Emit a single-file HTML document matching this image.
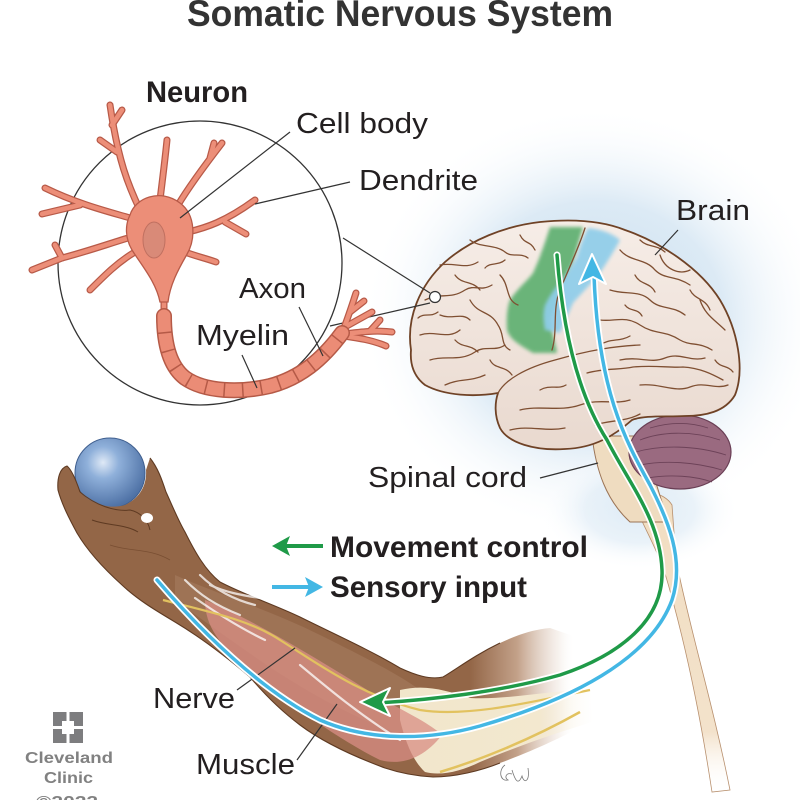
<!DOCTYPE html>
<html><head><meta charset="utf-8"><style>
html,body{margin:0;padding:0;background:#fff;}
svg{display:block;}
text{font-family:"Liberation Sans Narrow","Liberation Sans",sans-serif;fill:#231f20;}
</style></head><body>
<svg width="800" height="800" viewBox="0 0 800 800" xmlns="http://www.w3.org/2000/svg">
<defs>
<filter id="soft" x="-20%" y="-20%" width="140%" height="140%"><feGaussianBlur stdDeviation="1.8"/></filter>
<radialGradient id="glow" cx="0.5" cy="0.5" r="0.5">
<stop offset="0" stop-color="#c9dff0"/><stop offset="0.55" stop-color="#dceaf5"/><stop offset="1" stop-color="#ffffff" stop-opacity="0"/>
</radialGradient>
<radialGradient id="ball" cx="0.4" cy="0.35" r="0.65">
<stop offset="0" stop-color="#dfe9f6"/><stop offset="0.35" stop-color="#8fb0da"/><stop offset="1" stop-color="#4f72a6"/>
</radialGradient>
<linearGradient id="arm" gradientUnits="userSpaceOnUse" x1="470" y1="0" x2="575" y2="0">
<stop offset="0" stop-color="#936647"/><stop offset="0.45" stop-color="#c3a189"/><stop offset="0.85" stop-color="#f3ebe5" stop-opacity="0.6"/><stop offset="1" stop-color="#ffffff" stop-opacity="0"/>
</linearGradient>
<linearGradient id="tissue" gradientUnits="userSpaceOnUse" x1="400" y1="0" x2="600" y2="0">
<stop offset="0" stop-color="#f1e6cb"/><stop offset="0.7" stop-color="#f3e8cf"/><stop offset="1" stop-color="#ffffff" stop-opacity="0"/>
</linearGradient>
<linearGradient id="cord" x1="0" y1="0" x2="0" y2="1">
<stop offset="0" stop-color="#f1ddc1"/><stop offset="0.8" stop-color="#f3e2cb"/><stop offset="1" stop-color="#ffffff" stop-opacity="0"/>
</linearGradient>
<linearGradient id="brainfill" x1="0" y1="0" x2="0" y2="1">
<stop offset="0" stop-color="#f6ede7"/><stop offset="1" stop-color="#e9d9cf"/>
</linearGradient>
</defs>

<!-- title -->
<text x="187" y="26" font-size="37" font-weight="bold" textLength="426" lengthAdjust="spacingAndGlyphs" style="fill:#333">Somatic Nervous System</text>

<!-- glow -->
<ellipse cx="595" cy="320" rx="235" ry="215" fill="url(#glow)"/>
<ellipse cx="640" cy="510" rx="100" ry="60" fill="url(#glow)" opacity="0.6"/>

<!-- spinal cord -->
<path d="M632,498 C642,488 664,492 672,505 L676,560 C690,630 712,700 730,790 L712,792 C698,700 682,630 664,570 C655,545 640,520 632,498 Z" fill="url(#cord)" stroke="#b8906e" stroke-width="0.8"/>
<!-- brainstem -->
<path d="M592,436 C596,470 606,500 630,522 L668,522 C660,495 650,465 642,436 Z" fill="#efdcc0" stroke="#9b7456" stroke-width="1"/>
<!-- cerebellum -->
<ellipse cx="680" cy="452" rx="51" ry="37" fill="#9a6a80" stroke="#6a3f55" stroke-width="1.2"/>
<g stroke="#6d4258" stroke-width="0.9" fill="none">
<path d="M640,440 C660,432 690,430 720,440"/><path d="M636,452 C660,445 695,445 726,455"/>
<path d="M640,465 C665,460 695,462 722,470"/><path d="M648,478 C670,474 695,476 712,482"/>
<path d="M650,428 C670,422 690,422 708,428"/>
</g>

<!-- brain -->
<path d="M411,350 C406,318 420,285 445,262 C470,240 505,226 540,222 C570,219 600,220 625,230 C660,242 700,268 720,300 C738,330 745,370 735,395 C725,412 705,416 685,416 C665,417 645,415 632,420 C615,435 595,448 565,449 C535,451 508,443 500,428 C494,415 495,402 498,393 C475,397 445,396 425,385 C412,375 410,362 411,350 Z" fill="url(#brainfill)" stroke="#6f4226" stroke-width="1.8"/>
<!-- motor (green) region -->
<path filter="url(#soft)" d="M550,227 L583,227 C578,245 575,255 573,263 C565,280 557,300 550,320 C552,335 556,345 557,353 L533,353 C520,345 510,340 507,330 C506,315 508,305 510,300 C518,288 528,280 533,273 C538,262 542,252 550,227 Z" fill="#5fb071" opacity="0.92"/>
<!-- sensory (blue) region -->
<path filter="url(#soft)" d="M588,228 C600,229 612,233 620,240 C612,255 605,265 600,273 C590,285 580,295 573,303 C568,315 563,325 560,333 L545,330 C543,320 543,312 545,305 C550,295 555,288 560,283 C566,275 572,265 577,257 C580,245 584,235 588,228 Z" fill="#8fcdea" opacity="0.92"/>
<!-- gyri -->
<g stroke="#7f4f32" stroke-width="1.3" fill="none" stroke-linecap="round">
<path d="M440,265 C455,262 465,270 478,262"/>
<path d="M425,300 C440,292 450,300 465,290 C475,284 480,292 492,285"/>
<path d="M420,335 C435,330 448,340 460,330"/>
<path d="M430,360 C445,355 460,362 475,352 C485,345 495,352 505,345"/>
<path d="M470,240 C480,248 495,244 505,252 C512,258 520,252 528,258"/>
<path d="M500,275 C510,285 505,300 518,305"/>
<path d="M470,300 C478,315 490,310 498,325 C505,335 500,345 510,350"/>
<path d="M445,385 C460,378 470,382 485,375"/>
<path d="M440,315 C452,320 462,312 470,320"/>
<path d="M455,275 C462,285 472,280 480,290"/>
<path d="M418,318 C425,312 430,318 438,312"/>
<path d="M485,268 C490,262 498,266 505,260"/>
<path d="M455,340 C462,348 470,344 478,352"/>
<path d="M520,235 C525,245 530,240 535,250"/>
<path d="M490,360 C495,370 505,365 512,375"/>
<path d="M620,250 C630,262 645,258 655,270 C665,280 675,275 690,285"/>
<path d="M610,290 C625,295 640,290 650,300 C660,310 672,305 685,315"/>
<path d="M600,320 C615,322 625,315 640,325 C655,335 665,330 680,340 C690,346 700,342 712,350"/>
<path d="M660,255 C665,270 680,275 690,270"/>
<path d="M700,300 C705,315 715,320 725,330"/>
<path d="M635,275 C640,285 650,282 655,292"/>
<path d="M690,290 C695,300 705,298 710,310"/>
<path d="M625,305 C630,312 638,308 642,316"/>
<path d="M600,345 C610,338 620,342 630,336"/>
<path d="M715,360 C720,368 728,365 733,372"/>
<path d="M640,240 C648,248 656,244 665,252"/>
<path d="M620,360 C640,356 650,364 665,358 C680,352 690,362 705,358"/>
<path d="M640,385 C660,383 675,393 690,387 C705,381 715,390 728,385"/>
<path d="M498,393 C505,380 525,368 555,360 C590,350 615,346 640,345"/>
<path d="M587,373 C605,368 620,370 633,367 C655,365 670,368 683,367 C700,368 712,374 723,380"/>
<path d="M520,410 C540,405 560,412 580,405 C600,398 615,405 630,400"/>
<path d="M510,430 C530,425 545,432 565,428"/>
<path d="M595,425 C610,420 625,422 640,414"/>
<path d="M540,390 C550,384 558,390 566,385"/>
<path d="M585,228 C578,250 568,270 560,290 C552,310 558,330 552,350"/>
</g>

<!-- circle to brain connectors -->
<g stroke="#333" stroke-width="1.2" fill="none">
<line x1="343" y1="238" x2="430" y2="293"/>
<line x1="330" y1="326" x2="430" y2="303"/>
<circle cx="435" cy="297" r="5.5" fill="#fff"/>
</g>

<!-- neuron circle -->
<circle cx="200" cy="263" r="142" fill="none" stroke="#333" stroke-width="1.3"/>

<!-- neuron dendrites -->
<g fill="none" stroke-linecap="round" stroke-linejoin="round">
<g stroke="#b85a48" stroke-width="7">
<path d="M140,210 C128,185 118,160 110,105"/><path d="M117,152 L100,140"/><path d="M112,125 L122,110"/>
<path d="M160,200 C163,175 165,160 167,140"/>
<path d="M178,205 C190,185 205,165 222,143"/><path d="M210,158 L214,143"/>
<path d="M188,232 C205,228 225,222 255,200"/><path d="M225,222 L246,234"/>
<path d="M185,252 C195,256 205,258 216,262"/>
<path d="M130,218 C110,212 80,205 45,188"/><path d="M80,205 L42,214"/>
<path d="M128,238 C105,245 85,252 62,258 L32,270"/><path d="M62,258 L55,245"/>
<path d="M135,252 C118,262 105,275 90,290"/>
<path d="M164,298 L164,318"/>
<path d="M342,333 C348,318 352,305 356,293"/><path d="M350,312 L364,301"/><path d="M345,327 L372,312"/>
<path d="M344,334 C360,332 375,330 392,332"/><path d="M344,336 C358,338 372,340 386,346"/><path d="M370,331 L380,320"/>
</g>
<g stroke="#ec8e78" stroke-width="4.5">
<path d="M140,210 C128,185 118,160 110,105"/><path d="M117,152 L100,140"/><path d="M112,125 L122,110"/>
<path d="M160,200 C163,175 165,160 167,140"/>
<path d="M178,205 C190,185 205,165 222,143"/><path d="M210,158 L214,143"/>
<path d="M188,232 C205,228 225,222 255,200"/><path d="M225,222 L246,234"/>
<path d="M185,252 C195,256 205,258 216,262"/>
<path d="M130,218 C110,212 80,205 45,188"/><path d="M80,205 L42,214"/>
<path d="M128,238 C105,245 85,252 62,258 L32,270"/><path d="M62,258 L55,245"/>
<path d="M135,252 C118,262 105,275 90,290"/>
<path d="M164,298 L164,318"/>
<path d="M342,333 C348,318 352,305 356,293"/><path d="M350,312 L364,301"/><path d="M345,327 L372,312"/>
<path d="M344,334 C360,332 375,330 392,332"/><path d="M344,336 C358,338 372,340 386,346"/><path d="M370,331 L380,320"/>
</g>
</g>
<!-- cell body -->
<path d="M130,215 C135,198 160,188 180,203 C196,215 196,240 186,256 C178,270 170,285 168,302 L160,302 C156,282 142,266 132,250 C125,238 125,225 130,215 Z" fill="#ec8e78" stroke="#b85a48" stroke-width="1.3"/>
<ellipse cx="154" cy="240" rx="11" ry="18" fill="#d98a78" stroke="#c07060" stroke-width="1"/>
<!-- myelin -->
<path d="M164,316 C164,340 168,365 185,378 C205,392 240,393 270,386 C300,378 322,360 342,333" fill="none" stroke="#b55a47" stroke-width="16" stroke-linecap="round"/>
<path d="M164,316 C164,340 168,365 185,378 C205,392 240,393 270,386 C300,378 322,360 342,333" fill="none" stroke="#eb8c76" stroke-width="13" stroke-linecap="round"/>
<path d="M164,316 C164,340 168,365 185,378 C205,392 240,393 270,386 C300,378 322,360 342,333" fill="none" stroke="#b55a47" stroke-width="14" stroke-dasharray="1.5 17" stroke-dashoffset="-16"/>

<!-- neuron labels and leaders -->
<text x="146" y="102" font-size="30" font-weight="bold" textLength="102" lengthAdjust="spacingAndGlyphs">Neuron</text>
<text x="296" y="133" font-size="29" textLength="132" lengthAdjust="spacingAndGlyphs">Cell body</text>
<text x="359" y="190" font-size="29" textLength="119" lengthAdjust="spacingAndGlyphs">Dendrite</text>
<text x="676" y="220" font-size="29" textLength="74" lengthAdjust="spacingAndGlyphs">Brain</text>
<text x="239" y="298" font-size="29" textLength="67" lengthAdjust="spacingAndGlyphs">Axon</text>
<text x="196" y="345" font-size="29" textLength="93" lengthAdjust="spacingAndGlyphs">Myelin</text>
<g stroke="#333" stroke-width="1.2">
<line x1="180" y1="218" x2="290" y2="132"/>
<line x1="255" y1="204" x2="350" y2="182"/>
<line x1="655" y1="255" x2="678" y2="230"/>
<line x1="299" y1="307" x2="323" y2="356"/>
<line x1="242" y1="355" x2="257" y2="388"/>
<line x1="540" y1="478" x2="598" y2="463"/>
</g>

<!-- arm -->
<circle cx="110" cy="473" r="35" fill="url(#ball)" stroke="#3f5f8f" stroke-width="1"/>
<path d="M150,458 C158,468 162,480 166,492 C172,505 178,520 185,532 C195,552 205,570 220,582 C245,595 275,605 300,617 C330,632 370,650 400,668 C415,675 430,680 443,677 C458,668 475,655 500,643 C515,636 530,630 550,628 L585,640 L585,725 C560,738 535,750 500,763 C480,771 455,777 433,777 C415,776 400,773 385,768 C350,755 320,740 300,725 C280,710 265,695 250,677 C230,660 205,640 175,622 C155,610 138,600 122,585 C102,567 87,550 77,533 C70,520 62,505 58,490 C57,478 60,468 67,466 C72,470 76,480 80,492 C90,503 108,510 125,505 C140,498 147,485 146,470 Z" fill="url(#arm)"/>
<path d="M500,643 C475,655 458,668 443,677 C430,680 415,675 400,668 C370,650 330,632 300,617 C275,605 245,595 220,582 C205,570 195,552 185,532 C178,520 172,505 166,492 C162,480 158,468 150,458" fill="none" stroke="#5e3a22" stroke-width="1.1"/>
<path d="M500,763 C480,771 455,777 433,777 C415,776 400,773 385,768 C350,755 320,740 300,725 C280,710 265,695 250,677 C230,660 205,640 175,622 C155,610 138,600 122,585 C102,567 87,550 77,533 C70,520 62,505 58,490 C57,478 60,468 67,466 C72,470 76,480 80,492" fill="none" stroke="#5e3a22" stroke-width="1.1"/>
<path d="M80,492 C95,505 115,512 130,510 C140,512 148,520 150,530" fill="none" stroke="#5e3a22" stroke-width="1"/>
<path d="M92,520 C108,526 125,524 138,532" fill="none" stroke="#5e3a22" stroke-width="1"/>
<path d="M110,545 C130,552 150,548 170,560" fill="none" stroke="#6e4529" stroke-width="0.8" opacity="0.7"/>
<ellipse cx="147" cy="518" rx="6" ry="5" fill="#fff"/>
<path d="M175,575 C220,595 270,610 320,635 C360,655 395,672 420,690 L420,740 C380,730 330,705 290,680 C250,655 210,625 175,600 Z" fill="#a98064" opacity="0.5"/>
<path d="M400,690 C425,684 445,690 470,698 C510,700 550,690 590,690 L592,722 C560,732 520,745 480,762 C460,772 440,776 425,772 C412,760 405,740 400,720 Z" fill="url(#tissue)"/>
<path d="M205,600 C250,618 320,660 380,698 C410,714 430,724 442,735 C424,758 402,766 380,760 C330,735 270,690 235,658 C215,638 205,622 205,600 Z" fill="#d88d84" opacity="0.75"/>
<g stroke="#ffffff" stroke-width="2.2" opacity="0.75" fill="none" stroke-linecap="round">
<path d="M185,580 C200,595 215,605 240,615"/><path d="M200,575 C215,590 235,600 255,605"/>
<path d="M195,598 C215,612 240,628 265,640"/><path d="M210,585 C225,592 240,595 260,598"/>
<path d="M300,665 C330,690 360,715 400,740"/>
</g>
<path d="M163,600 C210,612 250,620 280,640 C320,665 360,695 420,710 C470,718 540,700 590,690" fill="none" stroke="#e2c25f" stroke-width="2.2"/>
<path d="M440,772 C480,760 530,740 580,712" fill="none" stroke="#e2c25f" stroke-width="2.5"/>

<g stroke="#333" stroke-width="1.2">
<line x1="237" y1="690" x2="295" y2="648"/>
<line x1="297" y1="760" x2="337" y2="704"/>
</g>

<!-- paths -->
<g fill="none" stroke-linecap="round">
<path d="M557,255 C562,320 575,390 607,440 C630,485 660,520 662,570 C664,620 620,655 560,675 C500,692 430,700 376,703" stroke="#fff" stroke-width="7"/>
<path d="M157,580 C200,630 260,690 320,720 C370,742 430,740 480,726 C570,700 650,660 672,600 C685,560 668,520 650,485 C625,440 598,390 594,275" stroke="#fff" stroke-width="7"/>
<path d="M557,255 C562,320 575,390 607,440 C630,485 660,520 662,570 C664,620 620,655 560,675 C500,692 430,700 376,703" stroke="#1f9a48" stroke-width="3.5"/>
<path d="M157,580 C200,630 260,690 320,720 C370,742 430,740 480,726 C570,700 650,660 672,600 C685,560 668,520 650,485 C625,440 598,390 594,275" stroke="#43b7e4" stroke-width="3.5"/>
</g>
<path d="M360,702 L390,688 L383,702 L390,716 Z" fill="#1f9a48" stroke="#fff" stroke-width="2" stroke-linejoin="round"/>
<path d="M592,254 L606,284 L593,277 L579,284 Z" fill="#43b7e4" stroke="#fff" stroke-width="2" stroke-linejoin="round"/>

<!-- legend -->
<line x1="282" y1="546" x2="323" y2="546" stroke="#1f9a48" stroke-width="4"/>
<path d="M272,546 L290,536 L286,546 L290,556 Z" fill="#1f9a48"/>
<line x1="272" y1="587" x2="312" y2="587" stroke="#43b7e4" stroke-width="4"/>
<path d="M323,587 L305,577 L309,587 L305,597 Z" fill="#43b7e4"/>
<text x="330" y="557" font-size="30" font-weight="bold" textLength="258" lengthAdjust="spacingAndGlyphs">Movement control</text>
<text x="330" y="597" font-size="30" font-weight="bold" textLength="197" lengthAdjust="spacingAndGlyphs">Sensory input</text>

<text x="368" y="487" font-size="29" textLength="159" lengthAdjust="spacingAndGlyphs">Spinal cord</text>
<text x="153" y="708" font-size="29" textLength="82" lengthAdjust="spacingAndGlyphs">Nerve</text>
<text x="196" y="774" font-size="29" textLength="99" lengthAdjust="spacingAndGlyphs">Muscle</text>

<path d="M505,765 C498,770 500,782 508,780 C504,778 506,772 512,774 M512,770 C515,780 518,786 522,776 C524,784 530,782 528,768" fill="none" stroke="#777" stroke-width="0.8"/>

<!-- Cleveland Clinic logo -->
<rect x="53" y="712" width="30" height="31" fill="#7d7d7f"/>
<rect x="62" y="721" width="12" height="13" fill="#fff"/>
<rect x="66.5" y="712" width="3" height="31" fill="#fff"/>
<rect x="53" y="726" width="30" height="3" fill="#fff"/>
<text x="25" y="763" font-size="16" font-weight="bold" textLength="88" lengthAdjust="spacingAndGlyphs" style="fill:#818181">Cleveland</text>
<text x="44" y="783" font-size="16" font-weight="bold" textLength="49" lengthAdjust="spacingAndGlyphs" style="fill:#818181">Clinic</text>
<text x="36" y="807" font-size="16" font-weight="bold" textLength="62" lengthAdjust="spacingAndGlyphs" style="fill:#818181">©2022</text>
</svg>
</body></html>
